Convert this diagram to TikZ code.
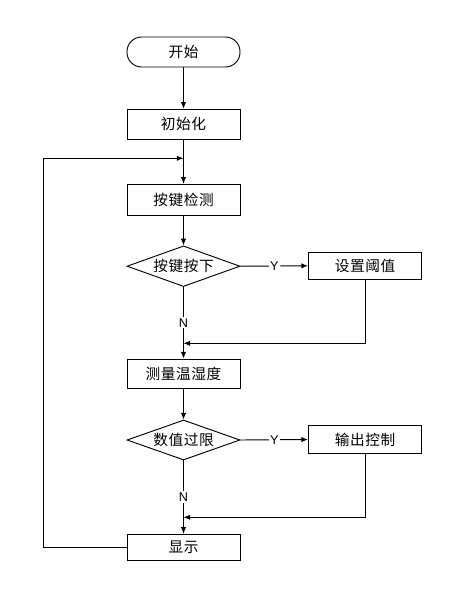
\documentclass[tikz,border=0pt]{standalone}
\usepackage{fontspec}
\setmainfont{Liberation Sans}
\newfontfamily\cjk{Noto Sans CJK SC}[LetterSpace=4]
\usetikzlibrary{shapes.geometric,arrows.meta}
\begin{document}
\begin{tikzpicture}[x=0.75pt,y=-0.75pt,
  every path/.style={line width=0.7pt},
  cbox/.style={draw,rectangle,minimum width=84.75pt,inner sep=0pt,font=\cjk\fontsize{11pt}{13pt}\selectfont},
  term/.style={cbox,rounded corners=11pt},
  dec/.style={draw,diamond,aspect=2.75,minimum width=84.75pt,minimum height=30.5pt,inner sep=0pt,font=\cjk\fontsize{11pt}{13pt}\selectfont},
  arr/.style={-{Latex[length=5pt,width=4pt]}},
  lab/.style={fill=white,inner sep=1pt,font=\fontsize{9.5pt}{11pt}\selectfont}]
\useasboundingbox (0,0) rectangle (469,601);
\node[term,minimum height=22.5pt] (start) at (183.5,52) {开始};
\node[cbox,minimum height=22.5pt] (init) at (183.5,124.3) {初始化};
\node[cbox,minimum height=23.2pt] (detect) at (183.5,199.8) {按键检测};
\node[dec] (d1) at (183.5,266.2) {按键按下};
\node[cbox,minimum height=20.2pt] (set) at (365,265.8) {设置阈值};
\node[cbox,minimum height=22pt] (measure) at (183.5,373.7) {测量温湿度};
\node[dec,minimum height=30pt] (d2) at (183.5,440) {数值过限};
\node[cbox,minimum height=20.7pt] (out) at (365,439.5) {输出控制};
\node[cbox,minimum height=19.3pt] (disp) at (183.5,547.2) {显示};
\coordinate (loopin) at (183.5,158.3);
\coordinate (loopcorner) at (43.3,547.2);
\coordinate (m1) at (183.5,343.3);
\coordinate (m2) at (183.5,517.3);
\draw[arr] (start) -- (init);
\draw[arr] (init) -- (detect);
\draw[arr] (detect) -- (d1);
\draw[arr] (d1.east) -- node[lab]{Y} (set.west);
\draw[arr] (d1.south) -- node[lab]{N} (measure.north);
\draw[arr] (set.south) |- (m1);
\draw[arr] (measure) -- (d2);
\draw[arr] (d2.east) -- node[lab]{Y} (out.west);
\draw[arr] (d2.south) -- node[lab]{N} (disp.north);
\draw[arr] (out.south) |- (m2);
\draw[arr] (disp.west) -- (loopcorner) |- (loopin);
\end{tikzpicture}
\end{document}
